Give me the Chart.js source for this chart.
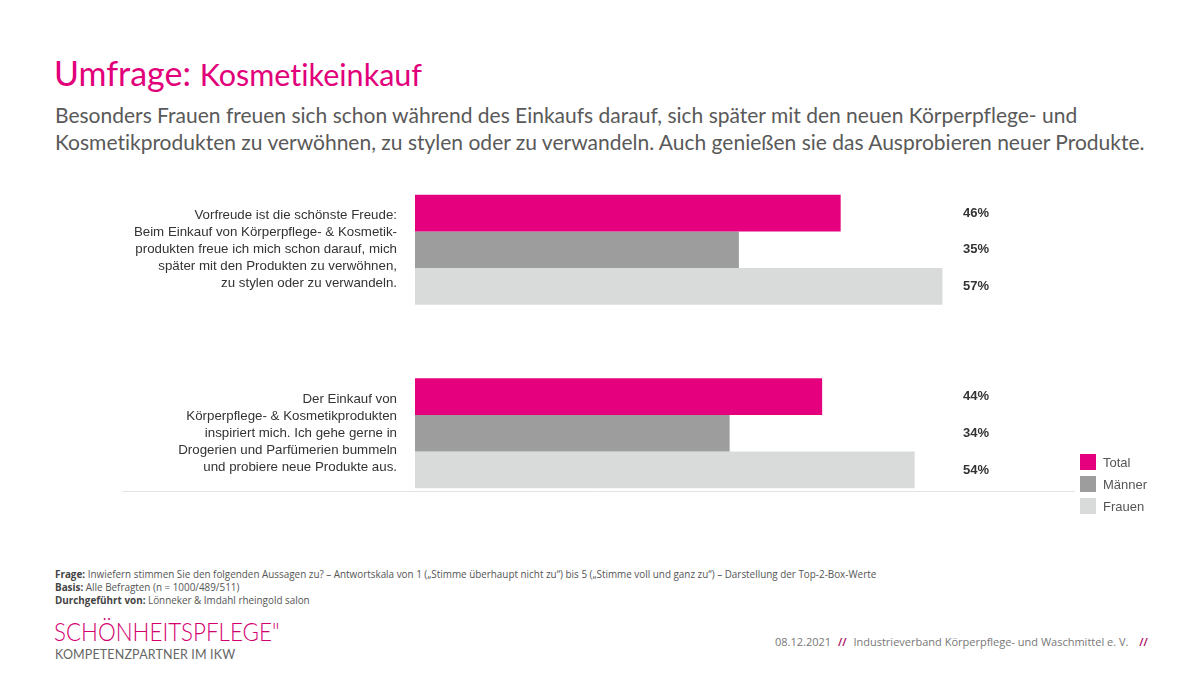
<!DOCTYPE html>
<html>
<head>
<meta charset="utf-8">
<script src="https://cdn.jsdelivr.net/npm/chart.js@4"></script>
<style>
    html, body { margin: 0; padding: 0; background: #fff; }
    body { width: 1200px; height: 675px; position: relative; overflow: hidden; font-family: "Liberation Sans", Arial, sans-serif; font-variant-ligatures: none; }
    .title { position: absolute; left: 54px; top: 52px; font-family: Lato, sans-serif; font-size: 34px; color: #e2007a; white-space: nowrap; }
    .title span { font-size: 30.5px; }
    .sub { position: absolute; left: 55px; top: 101px; font-family: Lato, sans-serif; font-size: 21px; line-height: 27px; color: #595959; white-space: nowrap; }
    #wrap { position: absolute; left: 0; top: 158px; width: 1200px; height: 367px; }
    #legend { position: absolute; left: 1080px; top: 451px; font-size: 13px; color: #555; }
    #legend div { height: 22px; display: flex; align-items: center; }
    #legend i { display: inline-block; width: 16px; height: 16px; margin-right: 7px; }
    .notes { position: absolute; left: 55px; top: 568px; font-family: "Open Sans", sans-serif; font-size: 9.9px; line-height: 13px; color: #555; white-space: nowrap; }
    .notes b { font-weight: 700; color: #444; }
    .logo { position: absolute; left: 54px; top: 615px; font-family: Lato, sans-serif; font-weight: 300; font-size: 26px; color: #d4006f; transform: scaleX(0.86); transform-origin: 0 0; white-space: nowrap; }
    .logo2 { position: absolute; left: 55px; top: 647px; font-family: Lato, sans-serif; font-size: 12.5px; color: #666; letter-spacing: 0.15px; }
    .foot { position: absolute; left: 775px; top: 634px; font-family: "Open Sans", sans-serif; font-size: 11px; color: #777; white-space: nowrap; }
    .foot em { font-style: normal; color: #a8005a; font-weight: 600; margin: 0 4px; }
</style>
</head>
<body>
<div class="title">Umfrage: <span>Kosmetikeinkauf</span></div>
<div class="sub">Besonders Frauen freuen sich schon während des Einkaufs darauf, sich später mit den neuen Körperpflege- und<br>Kosmetikprodukten zu verwöhnen, zu stylen oder zu verwandeln. Auch genießen sie das Ausprobieren neuer Produkte.</div>
<div id="wrap"><canvas id="chart"></canvas></div>
<div id="legend"></div>
<div class="notes">
    <b>Frage:</b> Inwiefern stimmen Sie den folgenden Aussagen zu? – Antwortskala von 1 („Stimme überhaupt nicht zu“) bis 5 („Stimme voll und ganz zu“) – Darstellung der Top-2-Box-Werte<br>
    <b>Basis:</b> Alle Befragten (n = 1000/489/511)<br>
    <b>Durchgeführt von:</b> Lönneker &amp; Imdahl rheingold salon
</div>
<div class="logo">SCHÖNHEITSPFLEGE"</div>
<div class="logo2">KOMPETENZPARTNER IM IKW</div>
<div class="foot">08.12.2021 <em>//</em> Industrieverband Körperpflege- und Waschmittel e. V. <em style="margin-left:8px">//</em></div>

<script>
    // Aussagen (Kategorien)
    const statements = [
        ["Vorfreude ist die schönste Freude:", "Beim Einkauf von Körperpflege- & Kosmetik-", "produkten freue ich mich schon darauf, mich", "später mit den Produkten zu verwöhnen,", "zu stylen oder zu verwandeln."],
        ["Der Einkauf von", "Körperpflege- & Kosmetikprodukten", "inspiriert mich. Ich gehe gerne in", "Drogerien und Parfümerien bummeln", "und probiere neue Produkte aus."]
    ];
    const seriesNames = ["Total", "Männer", "Frauen"];
    const totalValues = [46, 44];
    const maennerValues = [35, 34];
    const frauenValues = [57, 54];
    const seriesColors = ["#e5007d", "#9d9d9d", "#d9dbda"];

    const valueLabels = {
        id: 'valueLabels',
        afterDatasetsDraw(chart) {
            const ctx = chart.ctx;
            const area = chart.chartArea;
            ctx.save();
            // grundlinie unter den balken
            let lastMeta = chart.getDatasetMeta(chart.data.datasets.length - 1);
            let lastBar = lastMeta.data[lastMeta.data.length - 1];
            let lineY = Math.round(lastBar.y + lastBar.height / 2) + 3.5;
            ctx.strokeStyle = "#e3e3e3";
            ctx.lineWidth = 1;
            ctx.beginPath();
            ctx.moveTo(122, lineY);
            ctx.lineTo(1075, lineY);
            ctx.stroke();

            ctx.font = "bold 13px 'Liberation Sans', Arial, sans-serif";
            ctx.fillStyle = "#333";
            ctx.textAlign = "left";
            ctx.textBaseline = "middle";
            chart.data.datasets.forEach(function (ds, i) {
                let meta = chart.getDatasetMeta(i);
                meta.data.forEach(function (bar, j) {
                    ctx.fillText(ds.data[j] + "%", area.left + 548, bar.y);
                });
            });
            ctx.restore();
        }
    };

    const chart = new Chart(document.getElementById("chart"), {
        type: 'bar',
        data: {
            labels: statements,
            datasets: [
                { label: seriesNames[0], data: totalValues, backgroundColor: seriesColors[0] },
                { label: seriesNames[1], data: maennerValues, backgroundColor: seriesColors[1] },
                { label: seriesNames[2], data: frauenValues, backgroundColor: seriesColors[2] }
            ]
        },
        options: {
            indexAxis: 'y',
            responsive: true,
            maintainAspectRatio: false,
            animation: false,
            layout: { padding: { left: 0, right: 128, top: 0, bottom: 0 } },
            datasets: {
                bar: { barPercentage: 1, categoryPercentage: 0.6, borderWidth: 0 }
            },
            scales: {
                x: { display: false, min: 0, max: 71 },
                y: {
                    grid: { display: false, drawTicks: false },
                    border: { display: false },
                    ticks: {
                        padding: 18,
                        color: "#333",
                        font: { family: "'Liberation Sans', Arial, sans-serif", size: 13.3, lineHeight: 1.28 }
                    },
                    afterFit: function (scale) {
                        scale.width = 415;
                        scale.paddingTop = 0;
                        scale.paddingBottom = 0;
                    }
                }
            },
            plugins: {
                legend: { display: false },
                tooltip: { enabled: false }
            }
        },
        plugins: [valueLabels]
    });

    // legende aus den datensaetzen
    const legend = document.getElementById("legend");
    chart.data.datasets.forEach(function (ds) {
        let row = document.createElement("div");
        let box = document.createElement("i");
        box.setAttribute("style", "background: " + ds.backgroundColor + ";");
        row.appendChild(box);
        row.appendChild(document.createTextNode(ds.label));
        legend.appendChild(row);
    });
</script>
</body>
</html>
